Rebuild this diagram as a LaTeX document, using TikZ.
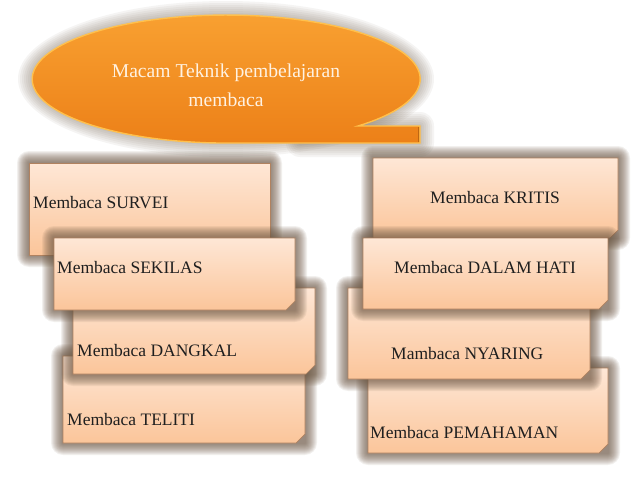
\documentclass[tikz,border=0pt]{standalone}
\usepackage{fontspec}
\setmainfont{Liberation Serif}
\definecolor{glowc}{HTML}{6A5642}
\definecolor{ellglow}{HTML}{7F6E5C}
\definecolor{boxtop}{HTML}{FEE7D6}
\definecolor{boxbot}{HTML}{FBC59A}
\definecolor{boxedge}{HTML}{B08260}
\definecolor{orgtop}{HTML}{F9A232}
\definecolor{orgbot}{HTML}{EC8018}
\definecolor{orgrim}{HTML}{FFC04C}
\definecolor{titletext}{HTML}{FFF2E2}
\tikzset{
  boxfill/.style={top color=boxtop, bottom color=boxbot, draw=boxedge, line width=0.7pt},
  lbl/.style={anchor=west, font=\fontsize{17.5}{21}\selectfont, text=black!88, inner sep=0pt},
  titlelbl/.style={align=center, text=titletext, font=\fontsize{19.6}{29}\selectfont, inner sep=0pt},
}
\newcommand\pbox[5]{%
  \foreach \d in {12,11,...,1}{%
    \fill[glowc, opacity=0.085, rounded corners=\d pt] ({#1-\d},{#2-\d}) rectangle ({#3+\d},{#4+\d});
  }%
  \path[boxfill] (#1,#2) -- (#3,#2) -- (#3,{#4-#5}) -- ({#3-#5},#4) -- (#1,#4) -- cycle;
}
\begin{document}
\begin{tikzpicture}[x=1pt,y=-1pt]
\useasboundingbox (0,0) rectangle (638,479);
\fill[white] (0,0) rectangle (638,479);

% title callout glow
\foreach \d in {14,12,...,2}{%
  \fill[ellglow, opacity=0.07] (226,79) ellipse [x radius={(194+\d)*1pt}, y radius={(64+\d)*1pt}];
  \fill[ellglow, opacity=0.07, rounded corners=\d pt] ({300-\d},{126-\d}) rectangle ({420+\d},{143+\d});
}
\path[top color=orgtop, bottom color=orgbot, draw=orgrim, line width=1.4pt]
  (420,126) -- (358,126) arc[start angle=-47.2, end angle=270, x radius=194pt, y radius=64pt] -- (420,143) -- cycle;
\draw[orgbot!80!black, line width=0.8pt] (418,127) -- (418,142);
\node[titlelbl] (title) at (226,85) {Macam Teknik pembelajaran\\membaca};

% left column
\pbox{29}{163}{270}{255}{0}
\node[lbl] (survei) at (33,203) {Membaca SURVEI};
\pbox{63}{356}{305}{443}{9}
\node[lbl] (teliti) at (67,420) {Membaca TELITI};
\pbox{73}{288}{315}{374}{9}
\node[lbl] (dangkal) at (77,351) {Membaca DANGKAL};
\pbox{54}{238}{295}{310}{9}
\node[lbl] (sekilas) at (57,268) {Membaca SEKILAS};

% right column
\pbox{373}{158}{618}{238}{8}
\node[lbl] (kritis) at (430,198) {Membaca KRITIS};
\pbox{368}{368}{608}{453}{9}
\node[lbl] (pemahaman) at (370,433) {Membaca PEMAHAMAN};
\pbox{348}{288}{590}{379}{9}
\node[lbl] (nyaring) at (391,354) {Mambaca NYARING};
\pbox{363}{238}{608}{309}{9}
\node[lbl] (dalamhati) at (394,268) {Membaca DALAM HATI};
\end{tikzpicture}
\end{document}
